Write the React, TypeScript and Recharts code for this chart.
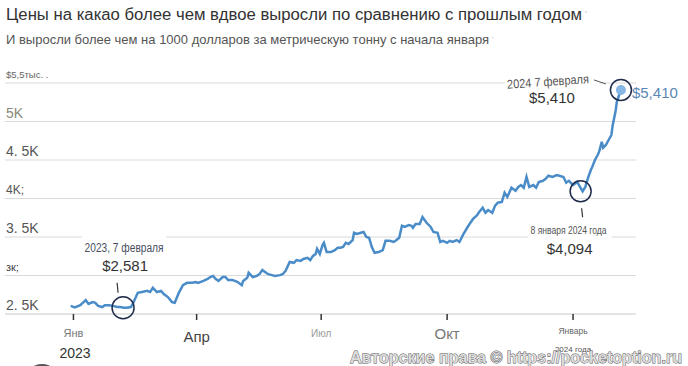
import { LineChart, Line, XAxis, YAxis, CartesianGrid, ReferenceDot } from 'recharts';

// days since 1 Jan 2023
const days = [
  -2, 1, 5, 9, 11, 14, 16, 18, 21, 23, 26, 29, 32, 34, 37, 39, 42, 44, 47, 50,
  54, 56, 58, 61, 64, 66, 69, 72, 74, 77, 80, 83, 87, 89, 91, 95, 98, 100, 102, 104,
  106, 109, 111, 113, 116, 118, 120, 123, 124, 127, 128, 131, 134, 136, 138, 140, 142, 145, 147, 151,
  153, 155, 158, 161, 163, 166, 168, 171, 173, 175, 177, 178, 180, 182, 183, 185, 188, 191, 193, 195,
  197, 199, 201, 204, 205, 207, 210, 212, 214, 216, 218, 220, 223, 226, 228, 231, 234, 236, 238, 240,
  242, 245, 247, 248, 250, 253, 255, 258, 261, 263, 266, 268, 270, 273, 275, 277, 280, 282, 285, 288,
  290, 292, 295, 296, 299, 301, 303, 306, 308, 310, 313, 315, 317, 320, 323, 325, 327, 329, 331, 333,
  336, 338, 340, 343, 345, 347, 350, 353, 355, 358, 360, 362, 365, 368, 372, 374, 376, 378, 379, 381,
  383, 384, 386, 387, 389, 391, 393, 394, 396, 397, 400,
];

// price, $ per tonne
const prices = [
  2605, 2585, 2615, 2680, 2630, 2655, 2645, 2605, 2590, 2615, 2615, 2605, 2590, 2590, 2581, 2580, 2590, 2655, 2775, 2785,
  2800, 2785, 2840, 2785, 2800, 2760, 2720, 2655, 2645, 2775, 2875, 2905, 2905, 2915, 2905, 2930, 2955, 2980, 2995, 2955,
  2930, 2980, 2980, 2940, 2940, 2930, 2915, 2875, 2930, 2970, 3035, 2980, 2995, 3020, 3070, 3045, 3020, 3005, 2995, 3005,
  3020, 3060, 3175, 3165, 3200, 3190, 3215, 3230, 3200, 3255, 3280, 3345, 3280, 3395, 3425, 3305, 3305, 3330, 3360, 3360,
  3370, 3425, 3410, 3460, 3555, 3540, 3555, 3565, 3500, 3490, 3370, 3295, 3305, 3330, 3450, 3450, 3435, 3460, 3490, 3645,
  3630, 3655, 3645, 3620, 3670, 3670, 3760, 3685, 3630, 3565, 3555, 3435, 3450, 3425, 3450, 3435, 3460, 3435, 3540, 3630,
  3685, 3735, 3785, 3815, 3880, 3815, 3850, 3815, 3905, 3945, 3955, 4075, 4020, 4140, 4100, 4150, 4175, 4140, 4280, 4150,
  4175, 4140, 4215, 4230, 4255, 4295, 4280, 4305, 4295, 4280, 4205, 4230, 4175, 4215, 4094, 4150, 4270, 4370, 4410, 4500,
  4565, 4605, 4735, 4660, 4695, 4760, 4825, 4955, 5125, 5255, 5410,
];

const xTicks = [0, 90, 181, 273, 365];
const xTickLabels = ['Янв', 'Апр', 'Июл', 'Окт', 'Январь'];
const yTicks = [2500, 3000, 3500, 4000, 4500, 5000, 5500];
const yTickLabels = ['2. 5K', 'зк;', '3. 5K', '4K;', '4. 5K', '5K', '$5,5тыс. .'];

// annotated points
const noteDays = [37, 372, 400];
const notePrices = [2581, 4094, 5410];
const noteDates = ['2023, 7 февраля', '8 января 2024 года', '2024 7 февраля'];
const noteLabels = ['$2,581', '$4,094', '$5,410'];

const data = days.map((d, i) => ({ day: d, price: prices[i] }));

const FONT = "'Liberation Sans', Arial, sans-serif";
const NARROW = "'Liberation Sans Narrow', 'Arial Narrow', 'Liberation Sans', sans-serif";
const RING = '#1f2c4c';

// the labels in the picture do not share one size or colour
const xTickStyle = [
  { size: 11, fill: '#777', dy: 19 },
  { size: 15, fill: '#444', dy: 22 },
  { size: 10, fill: '#9a9a9a', dy: 19 },
  { size: 15, fill: '#777', dy: 19 },
  { size: 8.5, fill: '#666', dy: 17 },
];
const yTickStyle = [
  { size: 14, fill: '#555' },
  { size: 11, fill: '#444' },
  { size: 14, fill: '#555' },
  { size: 12, fill: '#555' },
  { size: 14, fill: '#555' },
  { size: 14, fill: '#8a8a78' },
  { size: 9.5, fill: '#666' },
];

const XTick = ({ x, payload }: any) => {
  const i = xTicks.indexOf(payload.value);
  const s = xTickStyle[i];
  return (
    <text x={x} y={314 + s.dy} textAnchor="middle" dominantBaseline="central"
      fontFamily={FONT} fontSize={s.size} fill={s.fill}>
      {xTickLabels[i]}
    </text>
  );
};

const YTick = ({ y, payload }: any) => {
  const i = yTicks.indexOf(payload.value);
  if (i < 0) return null;
  const s = yTickStyle[i];
  return (
    <text x={6} y={y - 9} dominantBaseline="central" fontFamily={FONT} fontSize={s.size} fill={s.fill}>
      {yTickLabels[i]}
    </text>
  );
};

// 7 Feb 2023 — label above the point
const NoteLow = ({ cx, cy }: any) => (
  <g>
    <rect x={cx - 42} y={cy - 73} width={84} height={37} fill="#fff" />
    <text x={cx} y={cy - 60} textAnchor="middle" dominantBaseline="central" fontFamily={NARROW}
      fontSize={12.5} fill="#4a5062" textLength={79} lengthAdjust="spacingAndGlyphs">{noteDates[0]}</text>
    <text x={cx + 1} y={cy - 42} textAnchor="middle" dominantBaseline="central" fontFamily={FONT}
      fontSize={15} fill="#333">{noteLabels[0]}</text>
    <line x1={cx - 7} y1={cy - 25} x2={cx - 6} y2={cy - 15} stroke="#333" strokeWidth={1.2} />
    <circle cx={cx - 1} cy={cy} r={11} fill="none" stroke={RING} strokeWidth={1.5} />
  </g>
);

// 8 Jan 2024 — label below the point
const NoteDip = ({ cx, cy }: any) => (
  <g>
    <rect x={cx - 55} y={cy + 31} width={84} height={36} fill="#fff" />
    <text x={cx - 14} y={cy + 39} textAnchor="middle" dominantBaseline="central" fontFamily={NARROW}
      fontSize={11} fill="#555" textLength={76} lengthAdjust="spacingAndGlyphs">{noteDates[1]}</text>
    <text x={cx - 13} y={cy + 57} textAnchor="middle" dominantBaseline="central" fontFamily={FONT}
      fontSize={15} fill="#333">{noteLabels[1]}</text>
    <line x1={cx - 1} y1={cy + 17} x2={cx} y2={cy + 26} stroke="#333" strokeWidth={1.2} />
    <circle cx={cx - 2} cy={cy} r={10.5} fill="none" stroke={RING} strokeWidth={1.5} />
  </g>
);

// 7 Feb 2024 — latest value
const NoteTop = ({ cx, cy }: any) => (
  <g>
    <rect x={cx - 116} y={cy - 15} width={95} height={13} fill="#fff" />
    <text x={cx - 73} y={cy - 8} textAnchor="middle" dominantBaseline="central" fontFamily={NARROW}
      fontSize={12.5} fill="#555" textLength={82} lengthAdjust="spacingAndGlyphs"
      transform={`rotate(-4 ${cx - 73} ${cy - 8})`}>{noteDates[2]}</text>
    <text x={cx - 69} y={cy + 8} textAnchor="middle" dominantBaseline="central" fontFamily={FONT}
      fontSize={15} fill="#333">{noteLabels[2]}</text>
    <line x1={cx - 27} y1={cy - 10} x2={cx - 15} y2={cy - 6} stroke="#555" strokeWidth={1} />
    <circle cx={cx} cy={cy} r={5} fill="#86b6e3" />
    <circle cx={cx} cy={cy} r={10.5} fill="none" stroke={RING} strokeWidth={1.5} />
    <text x={cx + 11} y={cy + 3} dominantBaseline="central" fontFamily={FONT}
      fontSize={15} fill="#5b87b5">{noteLabels[2]}</text>
  </g>
);

const noteShapes = [NoteLow, NoteDip, NoteTop];

export default function App() {
  return (
    <div style={{ position: 'absolute', left: 0, top: 0, width: 688, height: 366, background: '#fff', overflow: 'hidden' }}>
      <svg width={688} height={60} style={{ position: 'absolute', left: 0, top: 0 }}>
        <text x={6} y={20} fontFamily={FONT} fontSize={16} fill="#333" textLength={576} lengthAdjust="spacingAndGlyphs">
          Цены на какао более чем вдвое выросли по сравнению с прошлым годом
        </text>
        <text x={585} y={17} fontFamily={FONT} fontSize={9} fill="#bbb">'</text>
        <text x={6} y={44} fontFamily={NARROW} fontSize={13} fill="#555" textLength={483} lengthAdjust="spacingAndGlyphs">
          И выросли более чем на 1000 долларов за метрическую тонну с начала января
        </text>
        <text x={492} y={42} fontFamily={FONT} fontSize={8} fill="#bbb">'</text>
      </svg>

      <div style={{ position: 'absolute', left: 0, top: 0 }}>
        <LineChart width={688} height={366} data={data} margin={{ top: 83, right: 52, left: 4, bottom: 12 }}>
          <CartesianGrid vertical={false} stroke="#dadada" />
          <XAxis
            dataKey="day"
            type="number"
            domain={[-50, 411]}
            ticks={xTicks}
            height={40}
            axisLine={{ stroke: '#dadada' }}
            tickLine={{ stroke: '#333', strokeWidth: 1.5 }}
            tickSize={6}
            tick={<XTick />}
          />
          <YAxis
            type="number"
            domain={[2500, 5500]}
            ticks={yTicks}
            width={1}
            interval={0}
            axisLine={false}
            tickLine={false}
            tick={<YTick />}
          />
          <Line
            type="linear"
            dataKey="price"
            stroke="#4a8cc8"
            strokeWidth={2.5}
            dot={false}
            isAnimationActive={false}
          />
          {noteDays.map((d, i) => {
            const Shape = noteShapes[i];
            return (
              <ReferenceDot key={d} x={d} y={notePrices[i]} r={0} ifOverflow="visible"
                shape={(p: any) => <Shape {...p} />} />
            );
          })}
        </LineChart>
      </div>

      <svg width={688} height={366} style={{ position: 'absolute', left: 0, top: 0, pointerEvents: 'none' }}>
        <text x={75} y={353} textAnchor="middle" dominantBaseline="central" fontFamily={FONT} fontSize={14} fill="#333">
          2023
        </text>
        <text x={573} y={349} textAnchor="middle" dominantBaseline="central" fontFamily={FONT} fontSize={8} fill="#555">
          2024 года
        </text>
        <circle cx={42} cy={381} r={17} fill="#555" />
        <text x={350} y={363} fontFamily={FONT} fontSize={17} fontWeight="bold" fill="#dcdcdc"
          stroke="#555" strokeWidth={0.9} paintOrder="stroke" textLength={332} lengthAdjust="spacingAndGlyphs">
          Авторские права © https://pocketoption.ru
        </text>
      </svg>
    </div>
  );
}
